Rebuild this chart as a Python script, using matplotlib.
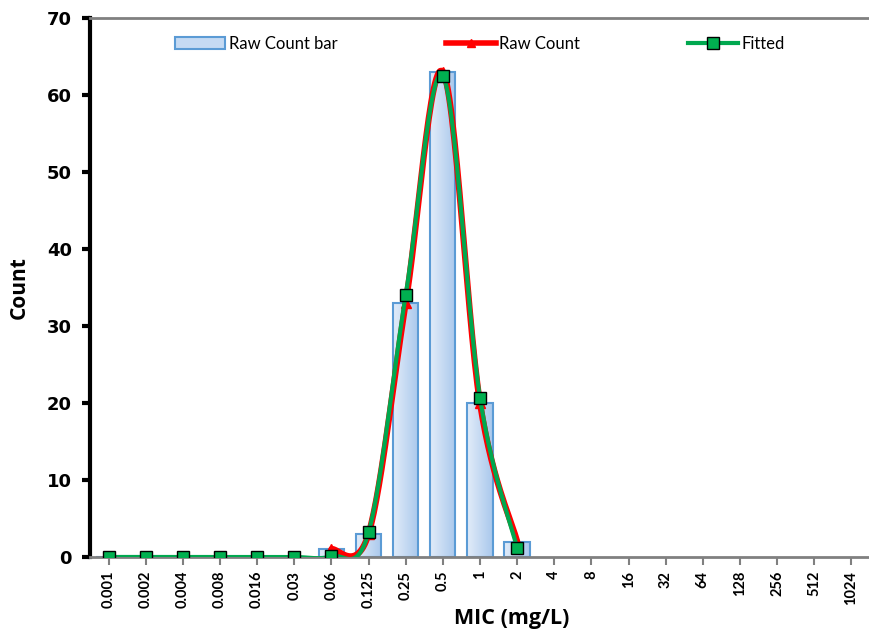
import matplotlib
matplotlib.use('Agg')
import matplotlib.pyplot as plt
import numpy as np

plt.rcParams['font.family'] = ['Lato', 'DejaVu Sans']

# MIC categories (mg/L)
mic = ['0.001', '0.002', '0.004', '0.008', '0.016', '0.03', '0.06', '0.125',
       '0.25', '0.5', '1', '2', '4', '8', '16', '32', '64', '128', '256',
       '512', '1024']
raw_count = [0, 0, 0, 0, 0, 0, 1, 3, 33, 63, 20, 2]
fitted = [0, 0, 0, 0, 0, 0, 0.1, 3.2, 34, 62.5, 20.7, 1.2]


def smooth(x, y, n=30):
    '''Curva suavizada tipo Catmull-Rom (como las lineas suavizadas de Excel)'''
    x = np.asarray(x, float)
    y = np.asarray(y, float)
    px = np.concatenate([[x[0]], x, [x[-1]]])
    py = np.concatenate([[y[0]], y, [y[-1]]])
    xs, ys = [], []
    t = np.linspace(0, 1, n)
    for i in range(1, len(px) - 2):
        p0 = np.array([px[i], py[i]])
        p3 = np.array([px[i + 1], py[i + 1]])
        c1 = p0 + (np.array([px[i + 1], py[i + 1]]) - np.array([px[i - 1], py[i - 1]])) / 6
        c2 = p3 - (np.array([px[i + 2], py[i + 2]]) - np.array([px[i], py[i]])) / 6
        b = ((1 - t) ** 3)[:, None] * p0 + (3 * (1 - t) ** 2 * t)[:, None] * c1 \
            + (3 * (1 - t) * t ** 2)[:, None] * c2 + (t ** 3)[:, None] * p3
        xs.extend(b[:, 0])
        ys.extend(b[:, 1])
    return np.array(xs), np.array(ys)


fig = plt.figure(figsize=(8.7, 6.31), dpi=100)
ax = fig.add_axes([0.1034, 0.1173, 0.8966, 0.8542])

x = np.arange(len(mic))
xr = x[:len(raw_count)]
xf = x[:len(fitted)]

# barras con degradado
w = 0.68
grad = np.linspace(0, 1, 64).reshape(1, -1)
cmap = matplotlib.colors.LinearSegmentedColormap.from_list('b', ['#e2ecf9', '#a9c8ec'])
bars = ax.bar(xr, raw_count, width=w, facecolor='none', edgecolor='#5b9bd5',
              linewidth=1.5, zorder=2)
for b in bars:
    if b.get_height() <= 0:
        continue
    im = ax.imshow(grad, cmap=cmap, aspect='auto', zorder=1.9,
                   extent=[b.get_x(), b.get_x() + b.get_width(), 0, b.get_height()])
    im.set_clip_path(b)

# lineas suavizadas
sx, sy = smooth(xr[6:], raw_count[6:])
ax.plot(sx, sy, color='#ff0000', lw=4.5, zorder=3, solid_capstyle='round')
ax.plot(xr[6:], raw_count[6:], ls='none', marker='^', ms=7, color='#ff0000', zorder=3)
gx, gy = smooth(xf, fitted)
ax.plot(gx, gy, color='#00a84f', lw=3, zorder=4)
ax.plot(xf, fitted, ls='none', marker='s', ms=9, markerfacecolor='#00b050',
        markeredgecolor='black', markeredgewidth=1, zorder=5)

ax.set_xlim(-0.5, len(mic) - 0.5)
ax.set_ylim(0, 70)
ax.set_yticks(range(0, 71, 10))
ax.set_xticks(x)
ax.set_xticklabels(mic, rotation=90, fontsize=10.5, fontweight='bold')
for lab in ax.get_yticklabels():
    lab.set_fontweight('bold')
    lab.set_family(['DejaVu Sans'])
ax.tick_params(axis='y', labelsize=13, width=3, length=6, color='black', pad=7)
ax.tick_params(axis='x', length=6, width=1.5, color='#808080', pad=4)

ax.spines['left'].set_linewidth(3)
ax.spines['left'].set_color('black')
ax.spines['bottom'].set_linewidth(2)
ax.spines['bottom'].set_color('#808080')
ax.spines['top'].set_linewidth(2)
ax.spines['top'].set_color('#808080')
ax.spines['right'].set_visible(False)

fig.text(0.588, 0.003, 'MIC (mg/L)', fontsize=15.5, fontweight='bold', ha='center',
         va='bottom', family=['Open Sans', 'DejaVu Sans'])
ax.set_ylabel('Count', fontsize=15, fontweight='bold', labelpad=12,
              family=['Open Sans', 'DejaVu Sans'])

h_bar = matplotlib.patches.Patch(facecolor='#c5daf3', edgecolor='#5b9bd5', linewidth=1.5)
h_raw = matplotlib.lines.Line2D([], [], color='#ff0000', lw=4, marker='^', ms=6)
h_fit = matplotlib.lines.Line2D([], [], color='#00a84f', lw=3, marker='s', ms=8,
                                markerfacecolor='#00b050', markeredgecolor='black')
ax.legend([h_bar, h_raw, h_fit], ['Raw Count bar', 'Raw Count', 'Fitted'],
          loc='upper center', bbox_to_anchor=(0.5, 0.995), ncol=3, frameon=False,
          fontsize=12, columnspacing=6.5, handlelength=3, handletextpad=0.2)

plt.savefig('out.png', dpi=100)
